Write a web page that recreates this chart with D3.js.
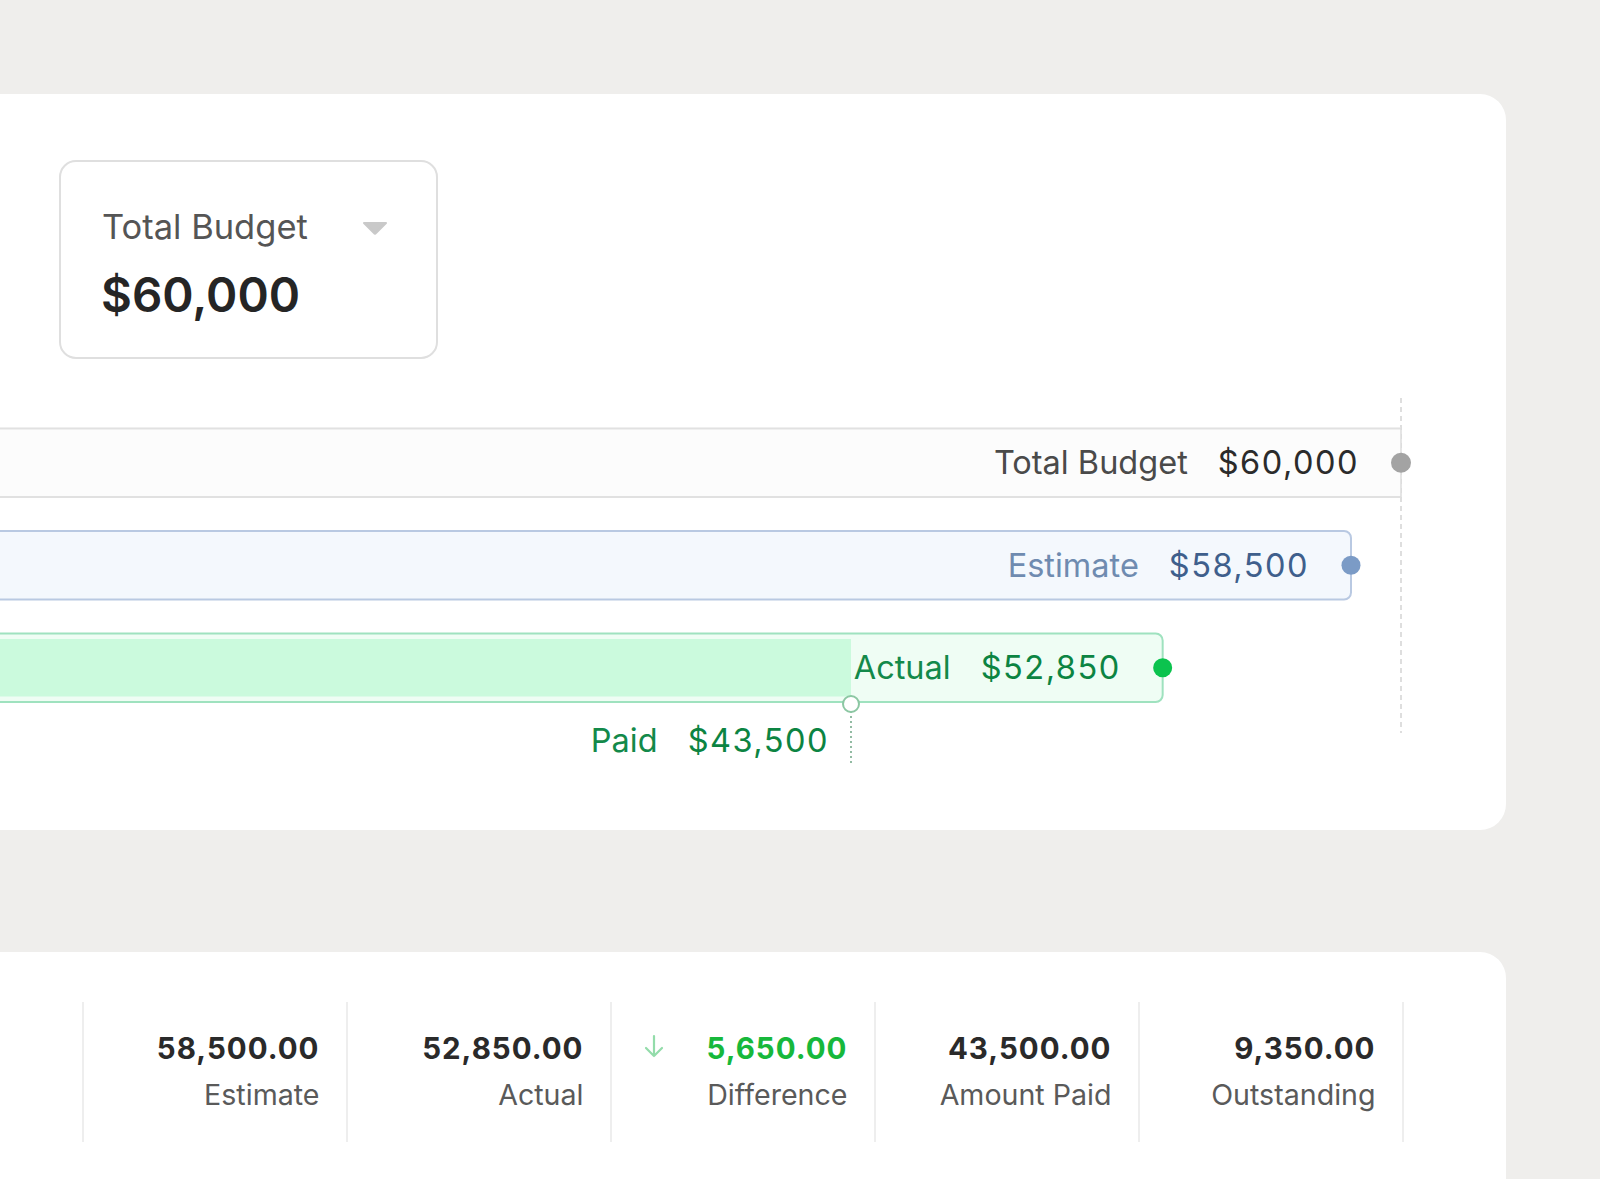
<!DOCTYPE html>
<html><head><meta charset="utf-8">
<script src="https://cdn.jsdelivr.net/npm/d3@7"></script>
<style>
html,body{margin:0;padding:0;background:#efeeec;overflow:hidden}
svg{display:block;font-family:Inter,"Noto Sans",sans-serif}
</style></head>
<body>
<svg id="c" width="1600" height="1179"></svg>
<script>
// ---- data ----
const barLabels = ["Total Budget", "Estimate", "Actual"];
const barValues = [60000, 58500, 52850];
const paidLabel = "Paid";
const paidValue = 43500;
const selectorLabel = "Total Budget";
const selectorValue = 60000;
const statLabels = ["Estimate", "Actual", "Difference", "Amount Paid", "Outstanding"];
const statValues = [58500, 52850, 5650, 43500, 9350];

// ---- styles ----
const barStyles = [
  {fill:"#fcfcfc", stroke:"#e1e1e1", rx:0, dot:"#a3a3a3", lab:"#4a4a4a", val:"#2b2b2b"},
  {fill:"#f4f8fd", stroke:"#b9c9e2", rx:7, dot:"#7b9bc6", lab:"#6f8bb0", val:"#3f5f8c"},
  {fill:"#effdf4", stroke:"#9fe2bf", rx:7, dot:"#0bc34e", lab:"#13894a", val:"#0c8442"}
];
const FS = 32.5, VLS = 1.5;

const svg = d3.select("#c");
const x = d3.scaleLinear().domain([0, 60000]).range([-599, 1401]);
const y = d3.scaleBand().domain(barLabels).range([427.5, 703]).paddingInner(0.312).paddingOuter(0);
const money = d3.format("$,");
const num = d3.format(",.2f");

// cards
svg.append("rect").attr("x",-40).attr("y",94).attr("width",1546).attr("height",736).attr("rx",26).attr("fill","#fff");
svg.append("rect").attr("x",-40).attr("y",952).attr("width",1546).attr("height",320).attr("rx",26).attr("fill","#fff");

// selector
const sel = svg.append("g");
sel.append("rect").attr("x",60).attr("y",161).attr("width",377).attr("height",197).attr("rx",16)
  .attr("fill","#fff").attr("stroke","#dfdfdf").attr("stroke-width",2);
sel.append("text").attr("x",102).attr("y",239).attr("font-size",34.5).attr("fill","#555")
  .text(selectorLabel);
sel.append("path").attr("d","M364,223 L386,223 L376,233 Q375,234.5 374,233 Z").attr("fill","#c9c9c9")
  .attr("stroke","#c9c9c9").attr("stroke-width",2).attr("stroke-linejoin","round");
sel.append("text").attr("x",101).attr("y",312).attr("font-size",47.5).attr("font-weight",600).attr("fill","#252525")
  .text(money(selectorValue));

// dashed reference line at total budget
svg.append("line").attr("x1",x(barValues[0])).attr("x2",x(barValues[0])).attr("y1",398).attr("y2",733)
  .attr("stroke","#d4d4d4").attr("stroke-width",1.5).attr("stroke-dasharray","5,4");

// bars
const g = svg.append("g");
barLabels.forEach((lab,i)=>{
  const s = barStyles[i];
  const y0 = y(lab), h = y.bandwidth();
  if(i===0){
    g.append("rect").attr("x",x(0)).attr("y",y0).attr("width",x(barValues[i])-x(0)).attr("height",h).attr("fill",s.fill);
    g.append("line").attr("x1",x(0)).attr("x2",x(barValues[i])).attr("y1",y0+1).attr("y2",y0+1).attr("stroke",s.stroke).attr("stroke-width",2);
    g.append("line").attr("x1",x(0)).attr("x2",x(barValues[i])).attr("y1",y0+h-1).attr("y2",y0+h-1).attr("stroke",s.stroke).attr("stroke-width",2);
    g.append("line").attr("x1",x(barValues[i])).attr("x2",x(barValues[i])).attr("y1",y0).attr("y2",y0+h).attr("stroke","#dcdcdc").attr("stroke-width",1.5);
  } else {
    g.append("rect").attr("x",x(0)).attr("y",y0+1).attr("width",x(barValues[i])-x(0)).attr("height",h-2).attr("rx",s.rx)
      .attr("fill",s.fill).attr("stroke",s.stroke).attr("stroke-width",2);
  }
  if(i===2){
    g.append("rect").attr("x",x(0)).attr("y",y0+6.5).attr("width",x(paidValue)-x(0)).attr("height",h-13).attr("fill","#cbfadd");
  }
  const cy = y0 + h/2;
  g.append("circle").attr("cx",x(barValues[i])).attr("cy",cy).attr("r",i===0?10:9.5).attr("fill",s.dot);
  const vt = g.append("text").attr("x",x(barValues[i])-42).attr("y",cy+11.5).attr("text-anchor","end")
    .attr("font-size",FS).attr("fill",s.val).attr("letter-spacing",VLS).text(money(barValues[i]));
  const w = vt.node().getComputedTextLength();
  g.append("text").attr("x",x(barValues[i])-42-w-30).attr("y",cy+11.5).attr("text-anchor","end")
    .attr("font-size",FS).attr("fill",s.lab).text(lab);
});

// paid marker
const ay = y(barLabels[2]) + y.bandwidth();
svg.append("line").attr("x1",x(paidValue)).attr("x2",x(paidValue)).attr("y1",ay+8).attr("y2",766)
  .attr("stroke","#6fa585").attr("stroke-width",1.5).attr("stroke-dasharray","2,3");
svg.append("circle").attr("cx",x(paidValue)).attr("cy",ay+1).attr("r",8).attr("fill","#fff").attr("stroke","#8cc7a3").attr("stroke-width",2);
const pv = svg.append("text").attr("x",x(paidValue)-22).attr("y",752).attr("text-anchor","end")
  .attr("font-size",FS).attr("fill","#0c8442").attr("letter-spacing",VLS).text(money(paidValue));
svg.append("text").attr("x",x(paidValue)-22-pv.node().getComputedTextLength()-30).attr("y",752).attr("text-anchor","end")
  .attr("font-size",FS).attr("fill","#13894a").text(paidLabel);

// stats
const sx = d3.scaleBand().domain(statLabels).range([83, 1403]);
const st = svg.append("g");
statLabels.forEach((lab,i)=>{
  const x0 = sx(lab);
  st.append("line").attr("x1",x0).attr("x2",x0).attr("y1",1002).attr("y2",1142).attr("stroke","#e9e9e9").attr("stroke-width",1.5);
  if(i===statLabels.length-1){
    const x1 = x0 + sx.bandwidth();
    st.append("line").attr("x1",x1).attr("x2",x1).attr("y1",1002).attr("y2",1142).attr("stroke","#e9e9e9").attr("stroke-width",1.5);
  }
  const xr = x0 + sx.bandwidth() - 27.5;
  st.append("text").attr("x",xr).attr("y",1059).attr("text-anchor","end").attr("font-size",29.5).attr("font-weight",700)
    .attr("letter-spacing","1").attr("fill", lab==="Difference" ? "#17b83b" : "#2a2a2a").text(num(statValues[i]));
  st.append("text").attr("x",xr).attr("y",1105).attr("text-anchor","end").attr("font-size",28.6)
    .attr("fill","#5a5a5a").text(lab);
  if(lab==="Difference"){
    const ax = x0 + 43;
    st.append("path").attr("d",`M${ax},1036 L${ax},1056 M${ax-8},1048 L${ax},1056 L${ax+8},1048`)
      .attr("fill","none").attr("stroke","#93dcaa").attr("stroke-width",2.2).attr("stroke-linecap","round").attr("stroke-linejoin","round");
  }
});
</script>
</body></html>
